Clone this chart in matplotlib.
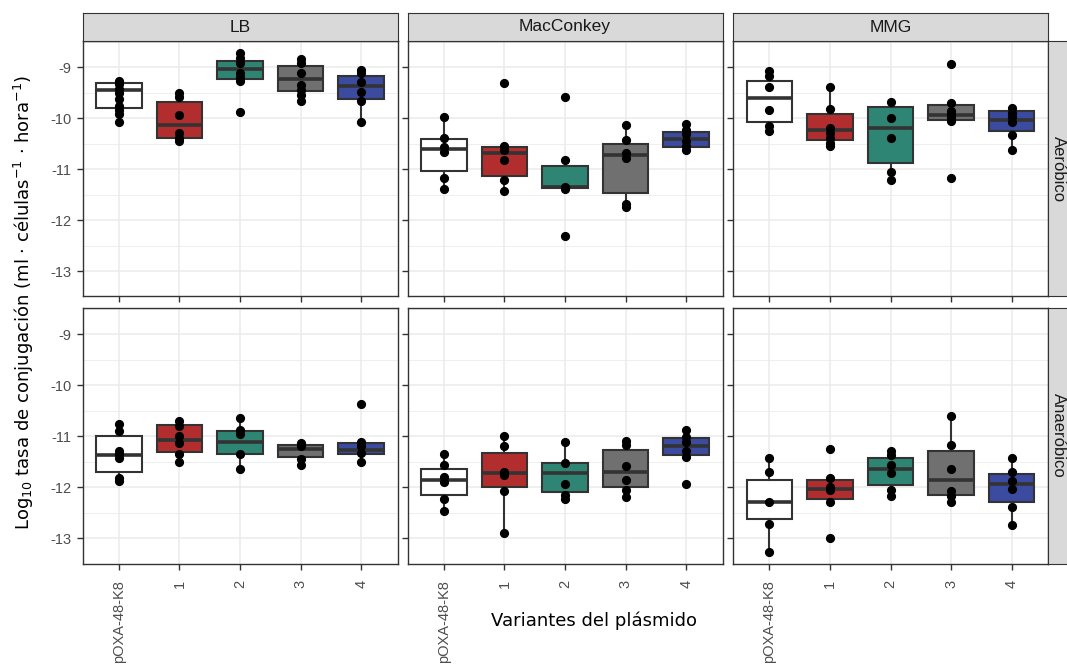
import numpy as np
import matplotlib
matplotlib.use("Agg")
import matplotlib.pyplot as plt

# plasmid variants (x categories) and fill colours
variants = ['pOXA-48-K8', '1', '2', '3', '4']
fills = ['#FFFFFF', '#B22E2E', '#2F8573', '#707070', '#3B4BA0']
media = ['LB', 'MacConkey', 'MMG']
conditions = ['Aeróbico', 'Anaeróbico']

# box stats per variant: (whislo, q1, med, q3, whishi)
lb_aer_box = [(-10.08, -9.80, -9.45, -9.32, -9.27), (-10.45, -10.39, -10.13, -9.68, -9.51),
              (-9.27, -9.23, -9.03, -8.88, -8.72), (-9.66, -9.48, -9.24, -8.98, -8.85),
              (-10.08, -9.62, -9.38, -9.17, -9.06)]
mac_aer_box = [(-11.40, -11.04, -10.60, -10.42, -9.99), (-11.43, -11.14, -10.69, -10.56, -10.54),
               (-11.40, -11.38, -11.36, -10.95, -10.82), (-11.75, -11.48, -10.73, -10.51, -10.14),
               (-10.62, -10.56, -10.42, -10.27, -10.12)]
mmg_aer_box = [(-10.25, -10.07, -9.61, -9.27, -9.07), (-10.55, -10.44, -10.24, -9.92, -9.39),
               (-11.21, -10.89, -10.20, -9.79, -9.68), (-10.05, -10.03, -9.95, -9.75, -9.71),
               (-10.63, -10.25, -10.03, -9.87, -9.80)]
lb_ana_box = [(-11.88, -11.71, -11.37, -11.00, -10.76), (-11.50, -11.32, -11.07, -10.79, -10.70),
              (-11.64, -11.35, -11.11, -10.90, -10.65), (-11.56, -11.41, -11.25, -11.18, -11.14),
              (-11.51, -11.35, -11.27, -11.14, -11.11)]
mac_ana_box = [(-12.47, -12.16, -11.87, -11.64, -11.35), (-12.91, -12.00, -11.73, -11.33, -11.00),
               (-12.24, -12.09, -11.73, -11.53, -11.12), (-12.20, -12.00, -11.71, -11.27, -11.09),
               (-11.41, -11.38, -11.19, -11.04, -10.88)]
mmg_ana_box = [(-13.28, -12.62, -12.30, -11.87, -11.44), (-12.30, -12.24, -12.03, -11.87, -11.82),
               (-12.18, -11.97, -11.64, -11.44, -11.30), (-12.30, -12.16, -11.87, -11.29, -10.61),
               (-12.75, -12.30, -11.94, -11.74, -11.43)]

# individual replicate values per variant
lb_aer_pts = [[-9.27, -9.34, -9.43, -9.51, -9.63, -9.76, -9.85, -9.93, -10.08],
              [-9.51, -9.59, -9.95, -10.29, -10.39, -10.45],
              [-8.72, -8.83, -8.92, -9.12, -9.19, -9.27, -9.88],
              [-8.85, -8.92, -9.12, -9.35, -9.45, -9.55, -9.66],
              [-9.06, -9.12, -9.29, -9.49, -9.66, -10.08]]
mac_aer_pts = [[-9.99, -10.39, -10.57, -10.67, -11.17, -11.40],
               [-9.31, -10.54, -10.62, -10.82, -11.22, -11.43],
               [-9.59, -10.82, -11.36, -11.40, -12.32],
               [-10.14, -10.44, -10.68, -10.79, -11.69, -11.75],
               [-10.12, -10.23, -10.32, -10.45, -10.54, -10.62]]
mmg_aer_pts = [[-9.07, -9.17, -9.39, -9.85, -10.15, -10.25],
               [-9.39, -9.82, -10.20, -10.29, -10.39, -10.49, -10.55],
               [-9.68, -10.00, -10.39, -11.06, -11.21],
               [-8.94, -9.71, -9.87, -9.93, -9.98, -10.05, -11.18],
               [-9.80, -9.90, -9.98, -10.07, -10.33, -10.63]]
lb_ana_pts = [[-10.76, -10.90, -11.29, -11.35, -11.43, -11.82, -11.88],
              [-10.70, -10.81, -11.00, -11.14, -11.35, -11.50],
              [-10.65, -10.88, -10.96, -11.35, -11.64],
              [-11.14, -11.20, -11.46, -11.56],
              [-10.38, -11.11, -11.20, -11.33, -11.51]]
mac_ana_pts = [[-11.35, -11.57, -11.81, -11.90, -12.24, -12.47],
               [-11.00, -11.20, -11.71, -11.77, -12.07, -12.91],
               [-11.12, -11.53, -11.95, -12.16, -12.24],
               [-11.09, -11.17, -11.58, -11.87, -12.05, -12.20],
               [-10.88, -11.01, -11.11, -11.30, -11.41, -11.94]]
mmg_ana_pts = [[-11.44, -11.71, -12.30, -12.73, -13.28],
               [-11.25, -11.82, -12.00, -12.06, -12.30, -13.00],
               [-11.30, -11.38, -11.57, -11.72, -12.05, -12.18],
               [-10.61, -11.17, -11.64, -12.08, -12.18, -12.30],
               [-11.43, -11.70, -11.88, -12.03, -12.40, -12.75]]

boxes = [[lb_aer_box, mac_aer_box, mmg_aer_box], [lb_ana_box, mac_ana_box, mmg_ana_box]]
points = [[lb_aer_pts, mac_aer_pts, mmg_aer_pts], [lb_ana_pts, mac_ana_pts, mmg_ana_pts]]

W, H = 1067, 667
fig = plt.figure(figsize=(W / 100, H / 100), dpi=100)

edge = '#333333'
tick_font = 'Liberation Sans'
col_left = [82.5, 407.5, 733]
panel_w = 315
row_top = [41, 308]
panel_h = 255.5
strip_h = 28


def px_axes(x0, y0, w, h, **kw):
    # place axes using pixel coordinates measured from the top-left corner
    return fig.add_axes([x0 / W, 1 - (y0 + h) / H, w / W, h / H], **kw)


for r in range(2):
    for c in range(3):
        ax = px_axes(col_left[c], row_top[r], panel_w, panel_h)
        stats = []
        for b in boxes[r][c]:
            stats.append(dict(whislo=b[0], q1=b[1], med=b[2], q3=b[3], whishi=b[4], fliers=[]))
        bp = ax.bxp(stats, positions=np.arange(1, 6), widths=0.75, patch_artist=True,
                    showcaps=False, showfliers=False,
                    boxprops=dict(edgecolor=edge, linewidth=1.5),
                    medianprops=dict(color=edge, linewidth=2.6, solid_capstyle='butt'),
                    whiskerprops=dict(color=edge, linewidth=1.5))
        for patch, fc in zip(bp['boxes'], fills):
            patch.set_facecolor(fc)
        for i, vals in enumerate(points[r][c]):
            ax.plot([i + 1] * len(vals), vals, 'o', color='black', ms=5.6, zorder=5)

        ax.set_xlim(0.4, 5.6)
        ax.set_ylim(-13.49, -8.49)
        ax.set_yticks([-13, -12, -11, -10, -9])
        ax.set_yticks(np.arange(-13.5, -8.4, 0.5), minor=True)
        ax.set_xticks(np.arange(1, 6))
        ax.grid(True, which='major', color='#EBEBEB', linewidth=1.1, zorder=0)
        ax.grid(True, which='minor', axis='y', color='#EBEBEB', linewidth=0.55, zorder=0)
        ax.set_axisbelow(True)
        ax.tick_params(which='minor', length=0)
        ax.tick_params(which='major', length=4, width=1, color=edge, colors='#4D4D4D',
                       labelsize=10.5)
        for s in ax.spines.values():
            s.set_color(edge)
            s.set_linewidth(1)

        if c == 0:
            ax.set_yticklabels(['-13', '-12', '-11', '-10', '-9'], fontname=tick_font)
            ax.tick_params(axis='y', pad=4)
        else:
            ax.set_yticklabels([])
        if r == 1:
            ax.set_xticklabels(variants, rotation=90, ha='center', va='top', fontname=tick_font)
            ax.tick_params(axis='x', pad=8)
        else:
            ax.set_xticklabels([])

# strips on top
for c in range(3):
    sa = px_axes(col_left[c], row_top[0] - strip_h, panel_w, strip_h, facecolor='#D9D9D9')
    sa.set_xticks([])
    sa.set_yticks([])
    for s in sa.spines.values():
        s.set_color(edge)
    sa.text(0.5, 0.5, media[c], ha='center', va='center', fontsize=12.5,
            fontname=tick_font, color='#1A1A1A', transform=sa.transAxes)

# strips on the right (running off the canvas edge like the reference)
strip_x = col_left[2] + panel_w
for r in range(2):
    sa = px_axes(strip_x, row_top[r], strip_h, panel_h, facecolor='#D9D9D9')
    sa.set_xticks([])
    sa.set_yticks([])
    for s in sa.spines.values():
        s.set_color(edge)
    fig.text((strip_x + 10) / W, 1 - (row_top[r] + panel_h / 2) / H, conditions[r],
             ha='center', va='center', fontsize=12, rotation=-90,
             fontname=tick_font, color='#1A1A1A')

fig.text(594 / W, 1 - 621 / H, 'Variantes del plásmido', ha='center', va='center',
         fontsize=13, family='DejaVu Sans')
fig.text(24 / W, 1 - 302 / H,
         r'Log$_{10}$ tasa de conjugación (ml · células$^{-1}$ · hora$^{-1}$)',
         ha='center', va='center', rotation=90, fontsize=13, family='DejaVu Sans')

fig.savefig('out.png', dpi=100)
